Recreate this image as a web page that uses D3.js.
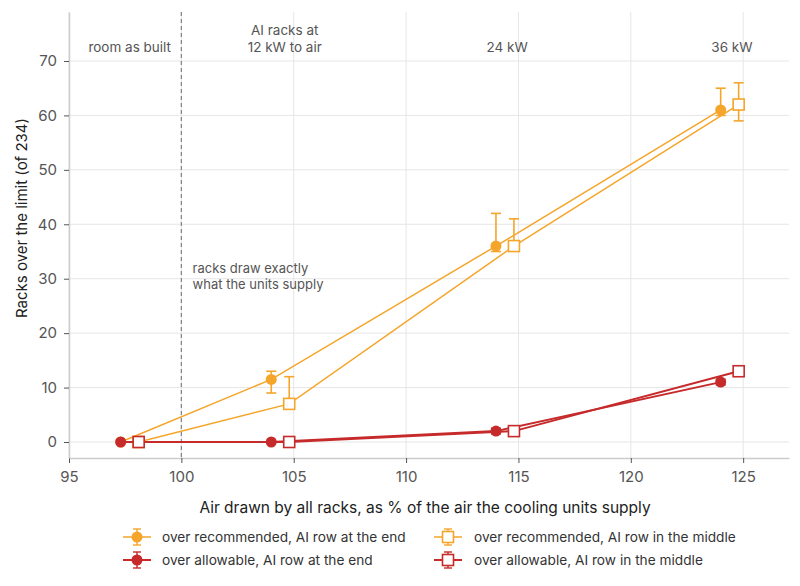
<!DOCTYPE html>
<html>
<head>
<meta charset="utf-8">
<script src="https://cdn.jsdelivr.net/npm/d3@7"></script>
<style>
  body { margin: 0; background: #fff; }
  svg { font-family: Inter, "Noto Sans", sans-serif; }
</style>
</head>
<body>
<svg id="chart" width="800" height="586"></svg>
<script>
// readings
const xTicks = [95, 100, 105, 110, 115, 120, 125];
const yTicks = [0, 10, 20, 30, 40, 50, 60, 70];

const recEnd = [
  {x: 97.3, y: 0, lo: 0, hi: 0},
  {x: 104.0, y: 11.5, lo: 9, hi: 13},
  {x: 114.0, y: 36, lo: 35, hi: 42},
  {x: 124.0, y: 61, lo: 60, hi: 65}
];
const recMid = [
  {x: 98.1, y: 0, lo: 0, hi: 0},
  {x: 104.8, y: 7, lo: 7, hi: 12},
  {x: 114.8, y: 36, lo: 36, hi: 41},
  {x: 124.8, y: 62, lo: 59, hi: 66}
];
const allowEnd = [
  {x: 97.3, y: 0, lo: 0, hi: 0},
  {x: 104.0, y: 0, lo: 0, hi: 0},
  {x: 114.0, y: 2, lo: 1.5, hi: 2.5},
  {x: 124.0, y: 11, lo: 10.5, hi: 11.5}
];
const allowMid = [
  {x: 98.1, y: 0, lo: 0, hi: 0},
  {x: 104.8, y: 0, lo: 0, hi: 0},
  {x: 114.8, y: 2, lo: 2, hi: 2},
  {x: 124.8, y: 13, lo: 12.5, hi: 13.5}
];

const topNotes = [
  {x: 97.7, lines: ['room as built']},
  {x: 104.6, lines: ['AI racks at', '12 kW to air']},
  {x: 114.5, lines: ['24 kW']},
  {x: 124.5, lines: ['36 kW']}
];
const midNote = ['racks draw exactly', 'what the units supply'];

const orange = '#f5a52a';
const red = '#c62a2a';

const series = [
  {name: 'over recommended, AI row at the end', data: recEnd, color: orange, shape: 'circle', lw: 1.5},
  {name: 'over recommended, AI row in the middle', data: recMid, color: orange, shape: 'square', lw: 1.5},
  {name: 'over allowable, AI row at the end', data: allowEnd, color: red, shape: 'circle', lw: 2},
  {name: 'over allowable, AI row in the middle', data: allowMid, color: red, shape: 'square', lw: 2}
];

const svg = d3.select('#chart');
const plotL = 69, plotR = 789, plotT = 12, plotB = 458;

const x = d3.scaleLinear().domain([95, 127.04]).range([plotL, plotR]);
const y = d3.scaleLinear().domain([-2.94, 79]).range([plotB, plotT]);

// grid
svg.append('g').selectAll('line').data(xTicks).enter().append('line')
   .attr('x1', d => x(d)).attr('x2', d => x(d))
   .attr('y1', plotT).attr('y2', plotB)
   .attr('stroke', '#e6e6e6').attr('stroke-width', 1);
svg.append('g').selectAll('line').data(yTicks).enter().append('line')
   .attr('x1', plotL).attr('x2', plotR)
   .attr('y1', d => y(d)).attr('y2', d => y(d))
   .attr('stroke', '#e6e6e6').attr('stroke-width', 1);

// axes
let xAxis = svg.append('g').attr('transform', 'translate(0,' + plotB + ')')
   .call(d3.axisBottom(x).tickValues(xTicks).tickSize(5).tickPadding(8).tickSizeOuter(0));
let yAxis = svg.append('g').attr('transform', 'translate(' + plotL + ',0)')
   .call(d3.axisLeft(y).tickValues(yTicks).tickSize(5).tickPadding(7).tickSizeOuter(0));
[xAxis, yAxis].forEach(function(a){
    a.select('.domain').attr('stroke', '#cccccc').attr('stroke-width', 1.5);
    a.selectAll('.tick line').attr('stroke', '#555');
    a.selectAll('.tick text').attr('fill', '#555').style('font-size', '15px')
     .style('font-family', 'Inter, sans-serif');
});

// reference line at 100
svg.append('line')
   .attr('x1', x(100)).attr('x2', x(100))
   .attr('y1', plotT).attr('y2', plotB)
   .attr('stroke', '#888').attr('stroke-width', 1.3)
   .attr('stroke-dasharray', '4,3');

// notes
topNotes.forEach(function(n){
    n.lines.forEach(function(t, i){
        svg.append('text')
           .attr('x', x(n.x))
           .attr('y', 51.5 - (n.lines.length - 1 - i) * 17)
           .attr('text-anchor', 'middle')
           .attr('fill', '#555').style('font-size', '13.5px')
           .text(t);
    });
});
midNote.forEach(function(t, i){
    svg.append('text')
       .attr('x', x(100.5)).attr('y', 273 + i * 16)
       .attr('fill', '#555').style('font-size', '13px')
       .text(t);
});

function drawMarker(g, shape, color, cx, cy){
    if (shape === 'circle'){
        g.append('circle').attr('cx', cx).attr('cy', cy).attr('r', 5.5)
         .attr('fill', color);
    } else {
        g.append('rect').attr('x', cx - 5.5).attr('y', cy - 5.5)
         .attr('width', 11).attr('height', 11)
         .attr('fill', '#fff').attr('stroke', color).attr('stroke-width', 1.6);
    }
}

const line = d3.line().x(d => x(d.x)).y(d => y(d.y));

series.forEach(function(s){
    let g = svg.append('g');
    g.append('path').datum(s.data)
     .attr('d', line)
     .attr('fill', 'none').attr('stroke', s.color).attr('stroke-width', s.lw);
    s.data.forEach(function(d){
        if (d.hi > d.lo){
            let cx = x(d.x);
            g.append('line').attr('x1', cx).attr('x2', cx)
             .attr('y1', y(d.lo)).attr('y2', y(d.hi))
             .attr('stroke', s.color).attr('stroke-width', 1.6);
            [d.lo, d.hi].forEach(function(v){
                g.append('line').attr('x1', cx - 5).attr('x2', cx + 5)
                 .attr('y1', y(v)).attr('y2', y(v))
                 .attr('stroke', s.color).attr('stroke-width', 1.6);
            });
        }
    });
    s.data.forEach(function(d){
        drawMarker(g, s.shape, s.color, x(d.x), y(d.y));
    });
});

// axis titles
svg.append('text')
   .attr('x', 425).attr('y', 513)
   .attr('text-anchor', 'middle').attr('fill', '#222')
   .style('font-size', '15.5px')
   .text('Air drawn by all racks, as % of the air the cooling units supply');
svg.append('text')
   .attr('transform', 'translate(27,218) rotate(-90)')
   .attr('text-anchor', 'middle').attr('fill', '#222')
   .style('font-size', '15px')
   .text('Racks over the limit (of 234)');

// legend
const legendPos = [
  {sx: 137, tx: 162, y: 537},
  {sx: 448, tx: 474, y: 537},
  {sx: 137, tx: 162, y: 560},
  {sx: 448, tx: 474, y: 560}
];
series.forEach(function(s, i){
    let p = legendPos[i];
    let g = svg.append('g');
    g.append('line').attr('x1', p.sx - 14).attr('x2', p.sx + 14)
     .attr('y1', p.y).attr('y2', p.y)
     .attr('stroke', s.color).attr('stroke-width', s.lw);
    g.append('line').attr('x1', p.sx).attr('x2', p.sx)
     .attr('y1', p.y - 8).attr('y2', p.y + 8)
     .attr('stroke', s.color).attr('stroke-width', 1.4);
    [p.y - 8, p.y + 8].forEach(function(v){
        g.append('line').attr('x1', p.sx - 4).attr('x2', p.sx + 4)
         .attr('y1', v).attr('y2', v)
         .attr('stroke', s.color).attr('stroke-width', 1.4);
    });
    drawMarker(g, s.shape, s.color, p.sx, p.y);
    g.append('text').attr('x', p.tx).attr('y', p.y + 4.5)
     .attr('fill', '#333').style('font-size', '13.7px')
     .text(s.name);
});
</script>
</body>
</html>
